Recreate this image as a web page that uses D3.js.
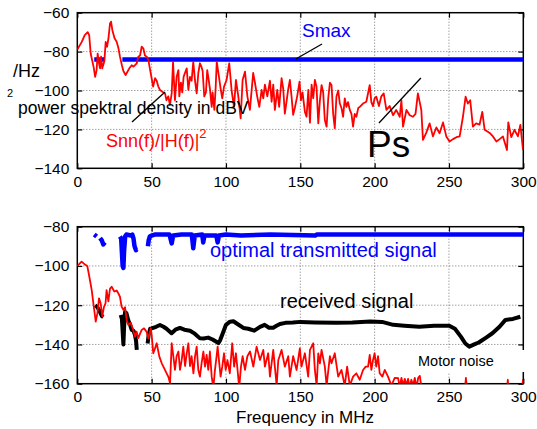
<!DOCTYPE html>
<html><head><meta charset="utf-8">
<script src="https://cdn.jsdelivr.net/npm/d3@7"></script>
<style>body{margin:0;background:#fff}svg{display:block}text{font-family:"Liberation Sans",Arial,Helvetica,sans-serif}</style>
</head><body><svg id="c" width="537" height="429"></svg>
<script>
// ---------- data ----------
const xTicks = [0, 50, 100, 150, 200, 250, 300];
const yTicksTop = [-60, -80, -100, -120, -140];
const yTicksBot = [-80, -100, -120, -140, -160];

// top: Snn(f)/|H(f)|^2 (red)
const topRedF = [0,3,5,7,8,9,11,12,13,13.7,14.6,15.3,16,16.8,18.2,19.1,20,21,22,22.7,23.6,25,26.5,27.6,28.7,30,31,32.5,34,35,36.6,37.7,38.8,40,41,42.2,43.3,44.4,45.5,46.7,47.8,49,50,51,52.3,53.4,54.5,55.6,57.2,59,60,61.2,62.3,63.5,64.4,65,65.7,66.8,68,68.6,69.7,70.6,71.5,72.4,73.6,74.7,75.8,76.9,78,79.2,80.3,81.4,82.5,83.6,84.3,85.4,86.5,87.4,88.1,89.2,90.4,91,92.2,93.1,93.8,95.3,96.4,97.5,98.7,100.4,102.2,103.8,105.4,106.7,108.3,109.9,111.2,112.8,114.4,116.1,118.3,119.5,121,122.4,124,125.1,126.2,127.8,129.6,130.7,131.8,132.9,134.5,135.8,137.4,138.5,139.6,140.7,141.8,143,144.1,145.2,146.3,147.9,149.5,150.4,151.5,153.1,154.2,155.4,156.5,157.6,158.7,159.8,160.9,162.1,163.2,164.3,165.4,166.5,167.7,168.8,169.9,171,172.1,173.2,174.3,175.5,176.6,177.7,178.8,179.9,181,182.1,183.3,184.4,185.5,186.6,187.7,189,190,192.2,194.4,196.7,197.8,198.9,200,201.1,202.9,204.5,206.1,207.9,210.1,212.4,214.5,216.9,218,219.1,221.4,223.6,225.8,227.5,229.1,231.4,232.5,234.7,237,239.2,241.5,243.7,246,248.2,250.4,252.7,255,257.2,259.4,261.2,262.7,264.3,266.1,268.3,270.6,272.4,274,277.4,279.6,281.9,284.1,286.3,289,289.9,291.9,294.1,296.4,298,299.8];
const topRedV = [-79,-75,-71.5,-70,-71.5,-81,-88,-93,-89.5,-81,-86,-88.6,-82.6,-88.6,-85,-75,-77.5,-73,-65.5,-64.6,-69,-73,-75,-78,-82.6,-87,-90,-92,-90,-88.6,-87,-87.7,-87,-86,-82.6,-82,-77.5,-78.3,-82,-82.6,-84.3,-89.5,-93.7,-98,-93.7,-95,-98,-99.7,-100.6,-101.5,-105,-103,-107.4,-101.5,-85.2,-94.6,-105,-93,-89.5,-103,-96,-101,-93,-91,-88.6,-99.7,-93,-95,-85.2,-95,-101.5,-91,-86,-88,-90,-103,-101,-89.5,-93,-99,-108.4,-101,-110,-98,-85.2,-93,-99,-104,-98,-94.6,-86,-100,-108.4,-94.6,-103,-114.3,-94.6,-90.3,-103,-110,-91,-96,-103,-108.4,-99.7,-104,-97,-103,-95,-105.8,-97,-110,-99.7,-108.4,-93.7,-99,-111.9,-106,-99.7,-94.6,-103,-112.5,-109,-103,-95.5,-105,-101,-111,-113.5,-99.7,-116.5,-97,-104,-94.6,-98,-116.9,-105,-97.2,-101,-115.2,-118.6,-104,-96,-97.2,-111.9,-119.4,-103.2,-100,-106.7,-109,-113.5,-104,-108.4,-106,-110,-112,-118.6,-112,-113.5,-109,-108.4,-106.7,-105.8,-97.2,-106,-108,-104,-103.2,-108,-103,-101.5,-110,-108,-112.7,-110,-113.5,-105,-118.6,-110,-112.7,-113.5,-112,-101.5,-110,-125.4,-121.8,-116.9,-123.6,-119,-122,-116.4,-123.6,-126.2,-125,-124,-123.6,-113.5,-103.2,-106.7,-105,-118.6,-116.9,-117.5,-111,-120.2,-121.8,-123.6,-126.2,-125,-123.6,-130.6,-116.4,-124,-120.2,-123.6,-117.7,-130.6];

// top: Smax (blue), null = gap
const smaxF = [11.4, 18.2, 24, 30.3, 300];
const smaxV = [-84, -84, null, -84, -84];

// bottom: optimal transmitted signal (blue)
const optF = [11.4,13,14,15.3,16.5,17.5,18.6,22,28.7,29.5,30.5,31,31.5,32.2,33,36,37,37.8,38.5,39.5,40,44,47.5,48,48.8,50,52,62,63.5,64.5,70,77,78,79,84,84.7,85.5,93.5,94.4,95.3,100,110,130,160,161,300];
const optV = [-84,-85,null,-85.8,-87,-89,-88,null,-85,-86,-100,-101,-92,-85,-84,-84.5,-84,-86,-90,-92,-91.5,null,-90,-87,-85,-84.5,-84,-84,-88.5,-84.5,-84,-84,-91,-84.5,-84,-88,-84.5,-84.5,-88,-84.5,-84,-84.5,-84,-84.5,-84,-84];

// bottom: received signal (black)
const rxF = [12,13.5,15,16.5,17.5,22,29.2,30,31,31.5,32.1,33,34.3,35.5,36.6,37.8,38.8,39.5,40,44,47.3,48,49,50,53,55.6,58,60,63.4,66,69,72,75.8,79,82.5,85,88,91,94.9,96,98,100,102.7,105,108,111.7,115,119,122.9,126,129,131.8,134,136.3,140,145,150,160,174,185,197,205,212.5,220,230,240,250.2,254,258,261,263.7,267,270,275,279.2,284,288,293,298];
const rxV = [-120,-121,-123,-125.5,-126,null,-125,-127,-140,-131,-123.5,-124,-127.7,-130,-132.6,-133,-135.2,-138,-142.8,null,-139.5,-135,-132,-131.8,-131,-130.1,-131,-132,-134.3,-132.5,-131.6,-132.5,-133,-134.5,-136.9,-137,-136.5,-137.5,-139.3,-138,-134,-130,-128.4,-128.2,-129.7,-131.6,-132,-133,-131,-130,-131.5,-131.5,-130.5,-129.6,-129,-128.8,-128.5,-128.8,-129,-128.8,-128.3,-128.5,-130,-130.5,-131,-130.5,-130.5,-132,-136,-139.5,-141.1,-140,-139,-136.5,-134.3,-131,-127.5,-127,-125.9];

// bottom: noise (red)
const nzF = [0,2.9,5.2,6.7,8.1,9.7,10.8,12.4,13.5,14.6,15.7,16.8,17.9,19,19.7,20.9,22,23.1,24.9,26.5,27.6,28.7,29.8,31,32.1,33.2,34.3,36,37.6,38.8,39.9,41,43.3,44.9,46.6,47.8,49.4,50,51.1,52.3,53.4,55.2,56.8,57.9,60.1,61.2,62.4,63.5,64.6,65.7,66.8,68,69.1,70.2,71.3,72.5,73.6,74.7,75.8,76.9,78.1,79.2,80.3,81.4,82.5,83.6,84.8,85.9,87,88.1,89.2,90.4,91.5,92.6,93.7,94.4,95.5,96.4,97.5,98.7,99.8,101,102.6,104.2,105.5,106.7,107.8,108.9,110.1,111.2,112.8,114.4,116.2,118.4,120.6,122.9,125.1,126.2,128.4,129.6,131.8,134.1,135.2,137.4,139.6,141.9,143,145.2,147.5,149.7,150.8,153.1,155.3,156.5,158.7,159.8,161,162.1,163.2,164.3,166.5,167.7,169.9,171,173.2,175.5,177.7,179.9,181.5,183.3,185.5,187.7,190,192.2,194,195.6,196.7,197.8,198.9,200,201.1,202.3,203.4,205.2,206.8,209,211.3,213.5,215.8,216.9,218,219.2,220.3,221.4,222.5,223.6,224.7,225.9,227,228.2,229.3,230.4,231.5,235,258,260.5,261.4,262.3,265,288,289.6,290.5,298,299.8,300];
const nzV = [-100,-97.8,-99.3,-100,-105.5,-112.3,-119,-128.4,-124.2,-116.5,-119,-125.7,-121,-119,-112.3,-118,-111.5,-110.6,-113,-112.5,-114,-115.7,-120.7,-122.4,-121,-127.5,-130,-129,-132.6,-136,-133.5,-136.8,-132.6,-131.8,-133.5,-136.8,-131.8,-135,-144.5,-142,-139.4,-146.2,-149.6,-151.3,-154.7,-156.4,-159.8,-139.4,-146,-153,-146,-143.6,-153,-148,-141.1,-151,-144.5,-139.4,-151,-146,-154.7,-146,-141.1,-153,-156.4,-149.6,-143.6,-151.3,-145.3,-153,-143.6,-156.4,-162,-153,-146,-141.1,-149.6,-156.4,-151.3,-144.5,-153,-148,-154.7,-139.4,-151.3,-144.5,-153,-162,-151.3,-146,-153,-146,-143.6,-151.3,-141.1,-147.9,-142.8,-151.3,-144.5,-156.4,-142.8,-161,-148,-142.8,-151.3,-146,-156.4,-146,-153,-142,-151.3,-144.5,-156.4,-142.8,-139.4,-153,-161,-144.5,-149.6,-142.8,-151.3,-161,-146,-149.6,-144.5,-156.4,-153,-161,-151.3,-161,-156.4,-154.7,-158,-153,-151.3,-151.3,-145.3,-153,-148,-144.5,-151.3,-146,-154.7,-156.4,-153,-156.4,-161,-157,-157.2,-162,-157,-161,-157.5,-161,-157.5,-162,-158,-161,-157,-162,-157,-156,-162,-170,-170,-165,-157,-165,-170,-170,-158,-170,-170,-158,-158];

// annotations [f, v]
const annPsd = [[36.8,-116.2],[59,-100.8]];
const annSmax = [[147,-83.8],[164.6,-76.1]];
const annPs = [[202.9,-116.7],[231.1,-93.6]];

// ---------- drawing ----------
const svg = d3.select("#c");
const x = d3.scaleLinear([0,300],[77.3,523.3]);
const yT = d3.scaleLinear([-140,-60],[168.3,12.7]);
const yB = d3.scaleLinear([-160,-80],[383.7,226.7]);
const zip = (F,V) => F.map((f,i)=>[f,V[i]]);

function panel(y, yTicks, id){
  const g = svg.append("g");
  const [y0,y1] = y.range();
  svg.append("clipPath").attr("id",id).append("rect")
    .attr("x",x(0)).attr("y",y1).attr("width",x(300)-x(0)).attr("height",y0-y1);
  g.append("g").selectAll("line").data(xTicks.slice(1,-1)).join("line")
    .attr("x1",d=>x(d)).attr("x2",d=>x(d)).attr("y1",y1).attr("y2",y0)
    .attr("stroke","#555").attr("stroke-width",0.8).attr("stroke-dasharray","1,2");
  g.append("g").selectAll("line").data(yTicks.slice(1,-1)).join("line")
    .attr("y1",d=>y(d)).attr("y2",d=>y(d)).attr("x1",x(0)).attr("x2",x(300))
    .attr("stroke","#555").attr("stroke-width",0.8).attr("stroke-dasharray","1,2");
  const fs = "15.5px";
  const ax = (a, tr, lab) => {
    const s = g.append("g").attr("transform",tr).call(a);
    s.select(".domain").remove();
    s.selectAll(".tick line").attr("stroke","#000").attr("stroke-width",1.2);
    s.selectAll("text").attr("font-size",fs).attr("fill","#000")
      .style("font-family",'"Liberation Sans",Arial,sans-serif');
    if(!lab) s.selectAll("text").remove();
    return s;
  };
  ax(d3.axisLeft(y).tickValues(yTicks).tickFormat(d3.format("d")).tickSizeInner(-5).tickSizeOuter(0).tickPadding(8), `translate(${x(0)},0)`, true);
  ax(d3.axisRight(y).tickValues(yTicks).tickSizeInner(-5).tickSizeOuter(0), `translate(${x(300)},0)`, false);
  ax(d3.axisBottom(x).tickValues(xTicks).tickFormat(d3.format("d")).tickSizeInner(-5).tickSizeOuter(0).tickPadding(7.5), `translate(0,${y0})`, true);
  ax(d3.axisTop(x).tickValues(xTicks).tickSizeInner(-5).tickSizeOuter(0), `translate(0,${y1})`, false);
  g.append("rect").attr("x",x(0)).attr("y",y1).attr("width",x(300)-x(0)).attr("height",y0-y1)
    .attr("fill","none").attr("stroke","#000").attr("stroke-width",1.5);
  return svg.append("g").attr("clip-path",`url(#${id})`);
}
const line = y => d3.line().defined(d=>d[1]!=null).x(d=>x(d[0])).y(d=>y(d[1]));

// top panel
const pT = panel(yT, yTicksTop, "clipT");
pT.append("path").datum(zip(smaxF,smaxV)).attr("d",line(yT))
  .attr("fill","none").attr("stroke","#0000ff").attr("stroke-width",4.5);
pT.append("path").datum(zip(topRedF,topRedV)).attr("d",line(yT))
  .attr("fill","none").attr("stroke","#ff0000").attr("stroke-width",1.8).attr("stroke-linejoin","round");

// bottom panel
const pB = panel(yB, yTicksBot, "clipB");
pB.append("path").datum(zip(rxF,rxV)).attr("d",line(yB))
  .attr("fill","none").attr("stroke","#000").attr("stroke-width",4).attr("stroke-linejoin","round");
pB.append("path").datum(zip(nzF,nzV)).attr("d",line(yB))
  .attr("fill","none").attr("stroke","#ff0000").attr("stroke-width",1.8).attr("stroke-linejoin","round");
pB.append("path").datum(zip(optF,optV)).attr("d",line(yB))
  .attr("fill","none").attr("stroke","#0000ff").attr("stroke-width",4.5).attr("stroke-linejoin","round");

// annotation lines
[annPsd, annSmax, annPs].forEach(a=>{
  svg.append("line").attr("x1",x(a[0][0])).attr("y1",yT(a[0][1])).attr("x2",x(a[1][0])).attr("y2",yT(a[1][1]))
    .attr("stroke","#000").attr("stroke-width",1.3);
});

// Motor noise box
svg.append("rect").attr("x",412).attr("y",350).attr("width",125).attr("height",22).attr("fill","#fff");

// texts
const T = (s,xx,yy,size,col,anchor) => svg.append("text").attr("x",xx).attr("y",yy)
  .attr("font-size",size).attr("fill",col||"#000").attr("text-anchor",anchor||"start").text(s);
T("/Hz",13,77,"18px");
T("2",7,97,"11px");
T("power spektral density in dBV",18,114,"17.5px");
const sn = T("Snn(f)/|H(f)|",106,147,"18px","#ff0000");
sn.append("tspan").attr("dy",-9).attr("font-size","13px").text("2");
T("Smax",302,37,"19px","#0000ff");
T("Ps",367,157,"37px");
T("optimal transmitted signal",210,257,"20px","#0000ff");
T("received signal",280,308,"20px");
T("Motor noise",418,366,"14.5px");
T("Frequency in MHz",236,423,"17px");
</script></body></html>
